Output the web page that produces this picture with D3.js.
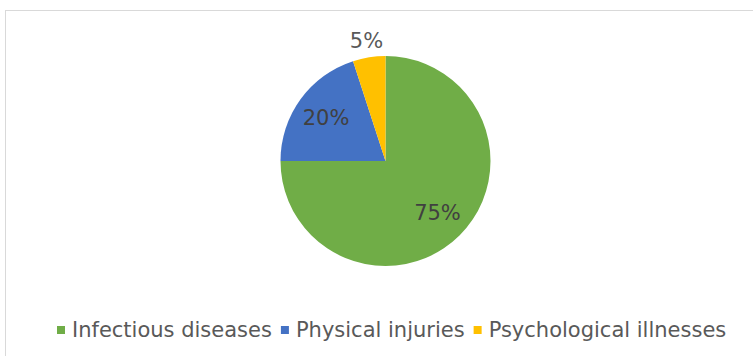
<!DOCTYPE html>
<html><head><meta charset="utf-8">
<script src="https://cdn.jsdelivr.net/npm/d3@7"></script>
<style>body{margin:0;background:#fff;}svg{display:block;}</style>
</head><body>
<script>
const categories = ["Infectious diseases", "Physical injuries", "Psychological illnesses"];
const values = [75, 20, 5];
const labels = ["75%", "20%", "5%"];
const colors = ["#70AD47", "#4472C4", "#FFC000"];

const W = 753, H = 356;
const svg = d3.select("body").append("svg").attr("width", W).attr("height", H);
svg.append("rect").attr("x", 5.5).attr("y", 10.5).attr("width", W).attr("height", H)
  .attr("fill", "#fff").attr("stroke", "#d9d9d9");

const cx = 385.5, cy = 161, R = 105;
const g = svg.append("g").attr("transform", `translate(${cx},${cy})`);
const pie = d3.pie().sort(null).value(d => d);
const arcs = pie(values);
const arc = d3.arc().innerRadius(0).outerRadius(R);
g.selectAll("path").data(arcs).join("path")
  .attr("d", arc).attr("fill", (d, i) => colors[i]);

const inner = d3.arc().innerRadius(R * 0.7).outerRadius(R * 0.7);
const outer = d3.arc().innerRadius(R * 1.155).outerRadius(R * 1.155);
g.selectAll("text").data(arcs).join("text")
  .attr("transform", (d, i) => `translate(${(i === 2 ? outer : inner).centroid(d)})`)
  .attr("text-anchor", "middle").attr("dominant-baseline", "central")
  .attr("font-family", "DejaVu Sans, sans-serif").attr("font-size", 21)
  .attr("fill", (d, i) => i === 2 ? "#595959" : "#404040")
  .text((d, i) => labels[i]);

// legend
const leg = svg.append("g").attr("font-family", "DejaVu Sans, sans-serif")
  .attr("font-size", 21).attr("fill", "#595959");
let x = 57;
const ly = 330;
categories.forEach((c, i) => {
  leg.append("rect").attr("x", x).attr("y", ly - 4).attr("width", 8).attr("height", 8).attr("fill", colors[i]);
  const t = leg.append("text").attr("x", x + 15).attr("y", ly).attr("dominant-baseline", "central").text(c);
  x += 15 + t.node().getComputedTextLength() + 9;
});
</script>
</body></html>
